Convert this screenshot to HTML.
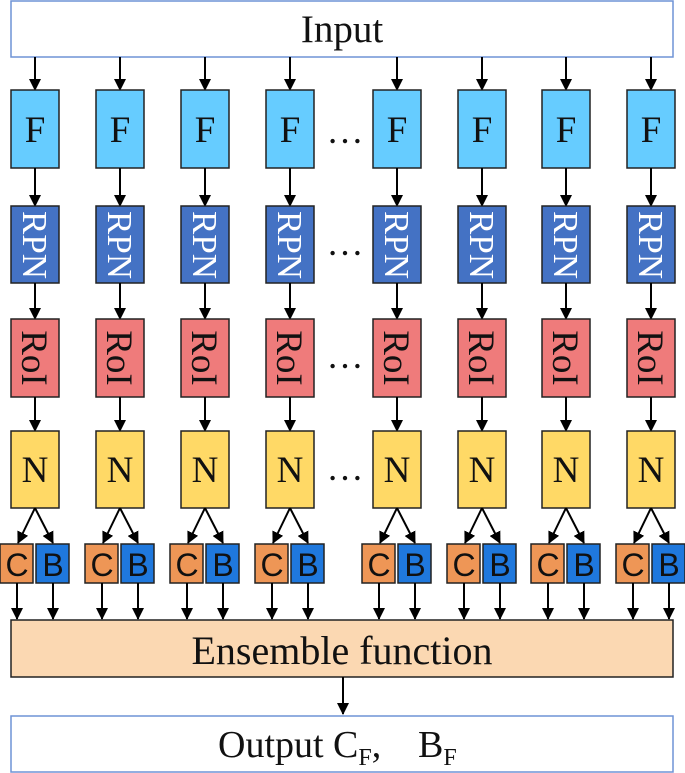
<!DOCTYPE html>
<html><head><meta charset="utf-8"><style>
html,body{margin:0;padding:0;background:#fff}
svg{display:block}
.s{font-family:"Liberation Serif",serif;fill:#111}
.a{font-family:"Liberation Sans",sans-serif;fill:#111;font-size:32px}
</style></head><body>
<svg id="g" width="685" height="773" viewBox="0 0 685 773" xmlns="http://www.w3.org/2000/svg">
<defs><marker id="m" markerWidth="12" markerHeight="12" refX="11" refY="6" orient="auto" markerUnits="userSpaceOnUse"><path d="M0,0 L12,6 L0,12 z" fill="#000"/></marker></defs>
<rect x="11" y="1" width="662" height="56" fill="#fff" stroke="#6f93d6" stroke-width="1.5"/>
<text class="s" x="342" y="42" font-size="39" text-anchor="middle">Input</text>
<g id="shapes"></g>
<rect x="11" y="620" width="662" height="57" fill="#fbd8b2" stroke="#222" stroke-width="1.5"/>
<text class="s" x="342" y="664" font-size="40" text-anchor="middle">Ensemble function</text>
<line x1="343" y1="677" x2="343" y2="714" stroke="#000" stroke-width="2" marker-end="url(#m)"/>
<rect x="11" y="716" width="662" height="56" fill="#fff" stroke="#6f93d6" stroke-width="1.5"/>
<text class="s" x="218" y="757" font-size="38">Output C<tspan font-size="24" dy="8">F</tspan><tspan dy="-8">,</tspan></text>
<text class="s" x="418" y="757" font-size="38">B<tspan font-size="24" dy="8">F</tspan></text>
<g class="s" font-size="37" text-anchor="middle">
<text x="35" y="142">F</text><text x="120" y="142">F</text><text x="205" y="142">F</text><text x="290" y="142">F</text><text x="397" y="142">F</text><text x="482" y="142">F</text><text x="566" y="142">F</text><text x="651" y="142">F</text>
<text x="345" y="143">…</text><text x="345" y="255">…</text><text x="345" y="368">…</text><text x="345" y="480">…</text>
<text x="35" y="482">N</text><text x="120" y="482">N</text><text x="205" y="482">N</text><text x="290" y="482">N</text><text x="397" y="482">N</text><text x="482" y="482">N</text><text x="566" y="482">N</text><text x="651" y="482">N</text>
</g>
<g class="s" font-size="35" text-anchor="middle">
<text transform="translate(23,245) rotate(90)" style="fill:#fff">RPN</text>
<text transform="translate(108,245) rotate(90)" style="fill:#fff">RPN</text>
<text transform="translate(193,245) rotate(90)" style="fill:#fff">RPN</text>
<text transform="translate(278,245) rotate(90)" style="fill:#fff">RPN</text>
<text transform="translate(385,245) rotate(90)" style="fill:#fff">RPN</text>
<text transform="translate(470,245) rotate(90)" style="fill:#fff">RPN</text>
<text transform="translate(554,245) rotate(90)" style="fill:#fff">RPN</text>
<text transform="translate(639,245) rotate(90)" style="fill:#fff">RPN</text>
</g>
<g class="s" font-size="37" text-anchor="middle">
<text transform="translate(22,358) rotate(90)">RoI</text>
<text transform="translate(107,358) rotate(90)">RoI</text>
<text transform="translate(192,358) rotate(90)">RoI</text>
<text transform="translate(277,358) rotate(90)">RoI</text>
<text transform="translate(384,358) rotate(90)">RoI</text>
<text transform="translate(469,358) rotate(90)">RoI</text>
<text transform="translate(553,358) rotate(90)">RoI</text>
<text transform="translate(638,358) rotate(90)">RoI</text>
</g>
<g class="a" text-anchor="middle">
<text x="17" y="576">C</text><text x="53" y="576">B</text>
<text x="102" y="576">C</text><text x="138" y="576">B</text>
<text x="187" y="576">C</text><text x="223" y="576">B</text>
<text x="272" y="576">C</text><text x="308" y="576">B</text>
<text x="379" y="576">C</text><text x="415" y="576">B</text>
<text x="464" y="576">C</text><text x="500" y="576">B</text>
<text x="548" y="576">C</text><text x="584" y="576">B</text>
<text x="633" y="576">C</text><text x="669" y="576">B</text>
</g>
</svg>
<script>
var cs=[35,120,205,290,397,482,566,651],g=document.getElementById('shapes'),h='';
function R(x,y,w,hh,f){h+='<rect x="'+x+'" y="'+y+'" width="'+w+'" height="'+hh+'" fill="'+f+'" stroke="#222" stroke-width="1.5"/>';}
function L(x1,y1,x2,y2){h+='<line x1="'+x1+'" y1="'+y1+'" x2="'+x2+'" y2="'+y2+'" stroke="#000" stroke-width="2" marker-end="url(#m)"/>';}
cs.forEach(function(c){
L(c,57,c,90);R(c-24,90,48,78,'#66ccff');
L(c,168,c,206);R(c-24,206,48,77,'#4472c4');
L(c,283,c,319);R(c-24,319,48,78,'#ef7b7b');
L(c,397,c,431);R(c-24,431,48,77,'#ffd966');
L(c,508,c-17,543);L(c,508,c+18,543);
R(c-35,544,33,39,'#ee9656');R(c+1,544,33,39,'#1f78dd');
L(c-18,583,c-18,619);L(c+18,583,c+18,619);
});
g.innerHTML=h;
</script>
</body></html>
